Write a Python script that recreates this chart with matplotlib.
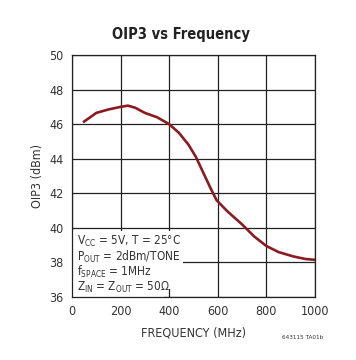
import matplotlib
matplotlib.use('Agg')
import matplotlib.pyplot as plt
from matplotlib.patches import Polygon

plt.rcParams['font.family'] = ['DejaVu Sans']
plt.rcParams['font.stretch'] = 'condensed'

freq = [50, 100, 150, 200, 230, 260, 300, 350, 400, 440, 480, 510, 540, 570, 595, 640, 700, 750, 800, 850, 910, 960, 1000]
oip3 = [46.15, 46.65, 46.85, 47.0, 47.07, 46.95, 46.65, 46.4, 46.0, 45.5, 44.8, 44.1, 43.2, 42.3, 41.6, 40.95, 40.2, 39.5, 38.95, 38.6, 38.35, 38.2, 38.15]

notes = [r'V$_{\mathregular{CC}}$ = 5V, T = 25°C',
         r'P$_{\mathregular{OUT}}$ = 2dBm/TONE',
         r'f$_{\mathregular{SPACE}}$ = 1MHz',
         r'Z$_{\mathregular{IN}}$ = Z$_{\mathregular{OUT}}$ = 50Ω']

fig = plt.figure(figsize=(3.56, 3.6), dpi=100)
ax = fig.add_axes([0.2022, 0.175, 0.6826, 0.6722])

ax.plot(freq, oip3, color='#8b1a22', linewidth=1.9, zorder=3)
ax.set_xlim(0, 1000)
ax.set_ylim(36, 50)
ax.set_xticks(range(0, 1001, 200))
ax.set_yticks(range(36, 51, 2))
ax.grid(True, color='#222222', linewidth=0.9)
ax.tick_params(length=0, labelsize=9, colors='#333333', pad=6)
for s in ax.spines.values():
    s.set_color('#222222')
    s.set_linewidth(0.9)

ax.set_xlabel('FREQUENCY (MHz)', fontsize=9, color='#333333', labelpad=6)
ax.set_ylabel('OIP3 (dBm)', fontsize=9, color='#333333', labelpad=4)
fig.text(0.508, 0.903, 'OIP3 vs Frequency', fontsize=10.5, fontweight='bold',
         color='#222222', ha='center', va='center')

# white area behind the condition notes
mask = Polygon([(0, 0), (0, 0.273), (0.457, 0.273), (0.457, 0.033),
                (0.38, 0.033), (0.38, 0)], closed=True, transform=ax.transAxes,
               facecolor='white', edgecolor='none', zorder=2)
ax.add_patch(mask)

ax.text(0.02, 0.135, '\n'.join(notes), transform=ax.transAxes, fontsize=8.5,
        color='#333333', va='center', ha='left', linespacing=0.95, zorder=4)

fig.text(0.907, 0.058, '643115 TA01b', fontsize=4.6, color='#333333', ha='right')

plt.savefig('out.png', dpi=100)
